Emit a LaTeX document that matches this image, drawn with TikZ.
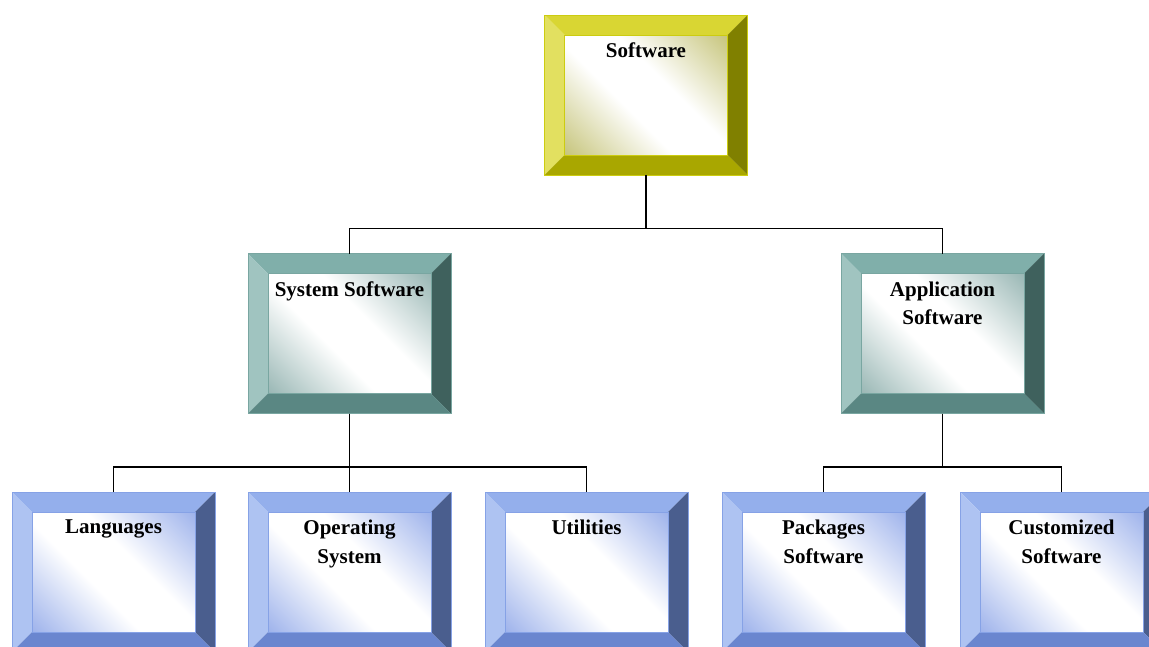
\documentclass[tikz,border=0pt]{standalone}
\usepackage{fontspec}
\setmainfont{Liberation Serif}
\usetikzlibrary{calc}
\definecolor{yTop}{HTML}{D9D633}
\definecolor{yLeft}{HTML}{E2E060}
\definecolor{yRight}{HTML}{808000}
\definecolor{yBot}{HTML}{A9A700}
\definecolor{yIn}{HTML}{BDBB66}
\definecolor{yEdge}{HTML}{CCCC10}
\definecolor{tTop}{HTML}{80AFAA}
\definecolor{tLeft}{HTML}{A0C4C0}
\definecolor{tRight}{HTML}{3F615D}
\definecolor{tBot}{HTML}{5A8783}
\definecolor{tIn}{HTML}{88ABA8}
\definecolor{tEdge}{HTML}{79A6A1}
\definecolor{bTop}{HTML}{94AFEC}
\definecolor{bLeft}{HTML}{AEC3F2}
\definecolor{bRight}{HTML}{4A5E8E}
\definecolor{bBot}{HTML}{6A86CF}
\definecolor{bIn}{HTML}{8EA6E8}
\definecolor{bEdge}{HTML}{86A2E6}
\pgfdeclareverticalshading{yshade}{100bp}{color(0bp)=(yIn); color(10bp)=(yIn); color(42bp)=(white); color(58bp)=(white); color(90bp)=(yIn); color(100bp)=(yIn)}
\pgfdeclareverticalshading{tshade}{100bp}{color(0bp)=(tIn); color(10bp)=(tIn); color(42bp)=(white); color(58bp)=(white); color(90bp)=(tIn); color(100bp)=(tIn)}
\pgfdeclareverticalshading{bshade}{100bp}{color(0bp)=(bIn); color(10bp)=(bIn); color(42bp)=(white); color(58bp)=(white); color(90bp)=(bIn); color(100bp)=(bIn)}
\tikzset{
  bevelbox/.style n args={6}{
    minimum width=203pt, minimum height=160pt, inner sep=0pt, outer sep=0pt,
    draw=#6, line width=0.8pt,
    path picture={
      \coordinate (pA) at (path picture bounding box.north west);
      \coordinate (pB) at (path picture bounding box.north east);
      \coordinate (pC) at (path picture bounding box.south east);
      \coordinate (pD) at (path picture bounding box.south west);
      \coordinate (pa) at ([xshift=20pt,yshift=-20pt]pA);
      \coordinate (pb) at ([xshift=-20pt,yshift=-20pt]pB);
      \coordinate (pc) at ([xshift=-20pt,yshift=20pt]pC);
      \coordinate (pd) at ([xshift=20pt,yshift=20pt]pD);
      \fill[#1] (pA) -- (pB) -- (pb) -- (pa) -- cycle;
      \fill[#2] (pA) -- (pa) -- (pd) -- (pD) -- cycle;
      \fill[#3] (pB) -- (pC) -- (pc) -- (pb) -- cycle;
      \fill[#4] (pD) -- (pd) -- (pc) -- (pC) -- cycle;
      \shade[shading=#5, shading angle=-45] (pa) rectangle (pc);
      \draw[#6, line width=0.8pt] (pa) rectangle (pc);
    }
  },
  ybox/.style={bevelbox={yTop}{yLeft}{yRight}{yBot}{yshade}{yEdge}},
  tbox/.style={bevelbox={tTop}{tLeft}{tRight}{tBot}{tshade}{tEdge}},
  bbox/.style={bevelbox={bTop}{bLeft}{bRight}{bBot}{bshade}{bEdge}},
  lbl/.style={anchor=north, inner sep=0pt, align=center,
    font=\fontsize{21}{28.5}\selectfont\bfseries, text=black},
  conn/.style={draw=black, line width=1.8pt}
}
\begin{document}
\begin{tikzpicture}[x=1pt,y=-1pt]
\useasboundingbox (0,0) rectangle (1149,646);
\node[ybox] (soft) at (646,95) {};
\node[tbox] (sys) at (349.5,333.5) {};
\node[tbox] (app) at (942.5,333.5) {};
\node[bbox] (lang) at (113.5,572) {};
\node[bbox] (os) at (349.5,572) {};
\node[bbox] (util) at (586.5,572) {};
\node[bbox] (pack) at (823.5,572) {};
\node[bbox] (cust) at (1061.5,572) {};

\node[lbl] (tsoft) at ([yshift=-28pt]soft.north) {Software};
\node[lbl] (tsys) at ([yshift=-28pt]sys.north) {System Software};
\node[lbl] (tapp) at ([yshift=-28pt]app.north) {Application\\Software};
\node[lbl] (tlang) at ([yshift=-28pt]lang.north) {Languages};
\node[lbl] (tos) at ([yshift=-28pt]os.north) {Operating\\System};
\node[lbl] (tutil) at ([yshift=-28pt]util.north) {Utilities};
\node[lbl] (tpack) at ([yshift=-28pt]pack.north) {Packages\\Software};
\node[lbl] (tcust) at ([yshift=-28pt]cust.north) {Customized\\Software};

\draw[conn] (soft.south) |- ([yshift=25pt]sys.north) -- (sys.north);
\draw[conn] (soft.south) |- ([yshift=25pt]app.north) -- (app.north);
\draw[conn] (sys.south) |- ([yshift=25pt]lang.north) -- (lang.north);
\draw[conn] (sys.south) -- (os.north);
\draw[conn] (sys.south) |- ([yshift=25pt]util.north) -- (util.north);
\draw[conn] (app.south) |- ([yshift=25pt]pack.north) -- (pack.north);
\draw[conn] (app.south) |- ([yshift=25pt]cust.north) -- (cust.north);
\end{tikzpicture}
\end{document}
